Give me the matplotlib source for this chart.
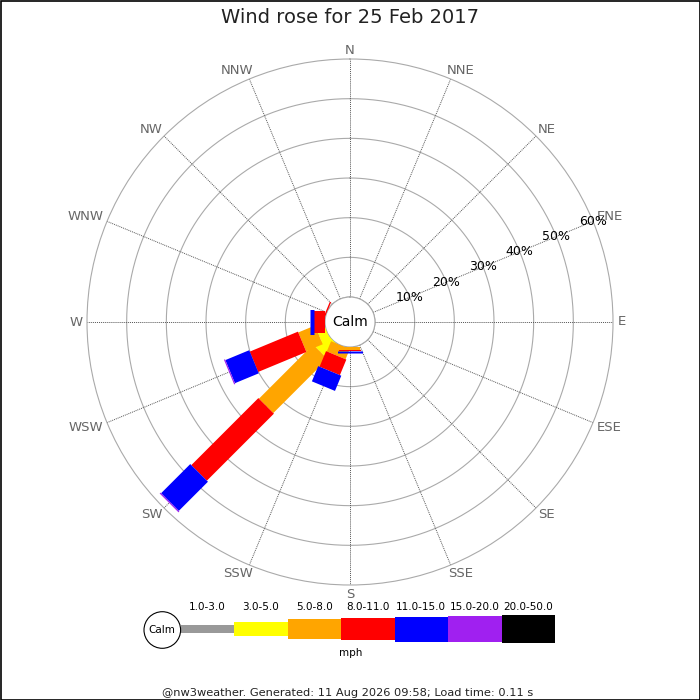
import numpy as np
import matplotlib
matplotlib.use("Agg")
import matplotlib.pyplot as plt
from matplotlib.patches import Rectangle, Circle

# ---------------- data ----------------
directions = ['N', 'NNE', 'NE', 'ENE', 'E', 'ESE', 'SE', 'SSE',
              'S', 'SSW', 'SW', 'WSW', 'W', 'WNW', 'NW', 'NNW']
speed_bins = ['1.0-3.0', '3.0-5.0', '5.0-8.0', '8.0-11.0',
              '11.0-15.0', '15.0-20.0', '20.0-50.0']
bin_colors = ['#999999', '#ffff00', '#ffa500', '#ff0000',
              '#0000ff', '#a020f0', '#000000']
# percent of observations per direction for each speed bin
freq_1_3   = [0, 0, 0, 0, 0, 0, 0, 0, 0.0, 0.0, 0.0, 0.0, 0.0, 0.0, 0, 0]
freq_3_5   = [0, 0, 0, 0, 0, 0, 0, 0, 0.0, 0.0, 4.3, 2.2, 0.0, 0.0, 0, 0]
freq_5_8   = [0, 0, 0, 0, 0, 0, 0, 0, 0.8, 2.8, 19.3, 4.55, 0.0, 0.0, 0, 0]
freq_8_11  = [0, 0, 0, 0, 0, 0, 0, 0, 0.25, 4.25, 23.9, 13.15, 2.9, 0.35, 0, 0]
freq_11_15 = [0, 0, 0, 0, 0, 0, 0, 0, 0.35, 4.15, 10.4, 6.5, 0.9, 0.0, 0, 0]
freq_15_20 = [0, 0, 0, 0, 0, 0, 0, 0, 0.0, 0.0, 0.3, 0.3, 0.0, 0.0, 0, 0]
freq_20_50 = [0, 0, 0, 0, 0, 0, 0, 0, 0.0, 0.0, 0.0, 0.0, 0.0, 0.0, 0, 0]
ring_values = [10, 20, 30, 40, 50, 60]
title = 'Wind rose for 25 Feb 2017'
footer = '@nw3weather. Generated: 11 Aug 2026 09:58; Load time: 0.11 s'

# ---------------- styles ----------------
bin_px = [7.7, 13.7, 20.3, 22.0, 25.0, 26.7, 28.3]   # thickness in pixels
DPI = 100
freqs = [freq_1_3, freq_3_5, freq_5_8, freq_8_11, freq_11_15, freq_15_20, freq_20_50]

fig = plt.figure(figsize=(7, 7), dpi=DPI)
fig.patch.set_facecolor('white')

R = 263.0
cx, cy = 350.0, 322.0
RMAX, RORIG = 60.0, -6.3
ax = fig.add_axes([(cx - R) / 700, (700 - cy - R) / 700, 2 * R / 700, 2 * R / 700],
                  projection='polar')
ax.set_theta_zero_location('N')
ax.set_theta_direction(-1)
ax.set_ylim(0, RMAX)
ax.set_rorigin(RORIG)
ax.set_xticks([])
ax.set_yticks([])
ax.grid(False)
for name, sp in ax.spines.items():
    sp.set_color('#aaaaaa')
    sp.set_linewidth(0.8)

thetas = np.deg2rad(np.arange(16) * 22.5)
full = np.linspace(0, 2 * np.pi, 361)
px_per_unit = R / (RMAX - RORIG)

# rings
for r in ring_values[:-1]:
    ax.plot(full, np.full_like(full, r), color='#aaaaaa', lw=0.8, zorder=1)
ax.plot(full, np.zeros_like(full), color='#aaaaaa', lw=0.8, zorder=1)
# spokes
for th in thetas:
    ax.plot([th, th], [0, RMAX], color='#555555', lw=0.7, ls=(0, (1, 1)), zorder=1)

# bars
cum = np.zeros(16)
for j, f in enumerate(freqs):
    f = np.asarray(f, dtype=float)
    for i in range(16):
        if f[i] > 0:
            ax.plot([thetas[i], thetas[i]], [cum[i], cum[i] + f[i]],
                    color=bin_colors[j], lw=bin_px[j] * 72 / DPI,
                    solid_capstyle='butt', zorder=3 + j)
    cum += f

# direction labels placed just outside the outer ring
fig.canvas.draw()
renderer = fig.canvas.get_renderer()
anchor_px = 267.7
half_h = 4.3
for th, lab in zip(thetas, directions):
    t = ax.text(th, RMAX, lab, ha='center', va='center', color='#666666',
                fontsize=9.5, clip_on=False)
    w = t.get_window_extent(renderer).width
    s, c = np.sin(th), np.cos(th)
    dx = anchor_px * s + np.sign(s) * np.sqrt(abs(s)) * w / 2
    dy = anchor_px * c + np.sign(c) * np.sqrt(abs(c)) * half_h
    ang = np.arctan2(dx, dy)
    r_px = np.hypot(dx, dy)
    t.set_position((ang, r_px / px_per_unit + RORIG))

# radial labels
for r in ring_values:
    ax.text(np.deg2rad(67.5), r, f'{r}%', ha='center', va='center',
            color='black', fontsize=9, zorder=20)
ax.text(0.5, 0.5, 'Calm', transform=ax.transAxes, ha='center', va='center',
        fontsize=10, color='black', zorder=25)

# overlay for title / legend / footer
lax = fig.add_axes([0, 0, 1, 1])
lax.set_xlim(0, 700)
lax.set_ylim(700, 0)
lax.axis('off')
lax.add_patch(Rectangle((0.5, 0.5), 699, 699, fill=False, ec='black', lw=1.2))
lax.text(350, 17.5, title, ha='center', va='center', fontsize=14, color='#222222')

seg_w = 53.5
x0 = 180.5
ly = 629.0
for j, (lab, col) in enumerate(zip(speed_bins, bin_colors)):
    h = bin_px[j]
    lax.add_patch(Rectangle((x0 + seg_w * j, ly - h / 2), seg_w, h,
                            facecolor=col, edgecolor='none'))
    lax.text(x0 + seg_w * (j + 0.5), 607, lab, ha='center', va='center',
             fontsize=7.5, color='black')
lax.add_patch(Circle((162.3, 630), 18.3, facecolor='white', edgecolor='black', lw=0.8))
lax.text(162.3, 630, 'Calm', ha='center', va='center', fontsize=7.5)
lax.text(350.5, 653, 'mph', ha='center', va='center', fontsize=7.5)
lax.text(348, 693, footer, ha='center', va='center', fontsize=8.2, color='#222222')

fig.savefig('out.png', dpi=DPI)
